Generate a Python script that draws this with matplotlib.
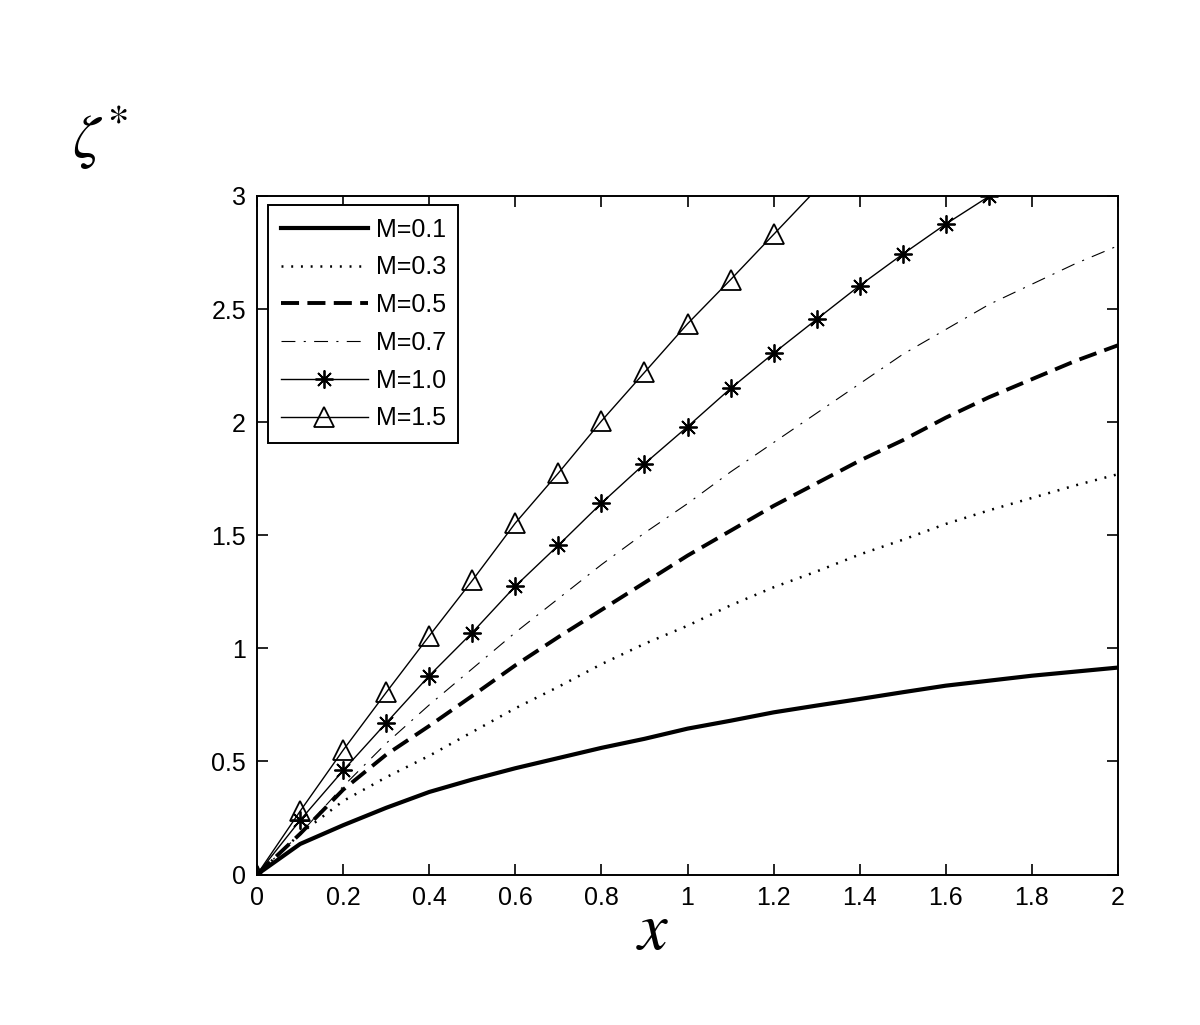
import numpy as np
import matplotlib.pyplot as plt

plt.rcParams['font.family'] = ['Liberation Sans', 'DejaVu Sans']
plt.rcParams['mathtext.fontset'] = 'stix'
plt.rcParams['lines.scale_dashes'] = False

# x grid (step 0.1) and curves
x = [0.0, 0.1, 0.2, 0.3, 0.4, 0.5, 0.6, 0.7, 0.8, 0.9, 1.0,
     1.1, 1.2, 1.3, 1.4, 1.5, 1.6, 1.7, 1.8, 1.9, 2.0]

m01 = [0, 0.135, 0.218, 0.295, 0.365, 0.42, 0.47, 0.515, 0.56, 0.60, 0.645,
       0.68, 0.717, 0.747, 0.776, 0.806, 0.835, 0.857, 0.879, 0.897, 0.915]
m03 = [0, 0.18, 0.325, 0.43, 0.525, 0.63, 0.735, 0.83, 0.93, 1.02, 1.10,
       1.19, 1.27, 1.34, 1.415, 1.48, 1.55, 1.61, 1.665, 1.72, 1.77]
m05 = [0, 0.18, 0.375, 0.53, 0.657, 0.79, 0.925, 1.05, 1.17, 1.29, 1.41,
       1.52, 1.63, 1.73, 1.83, 1.92, 2.02, 2.11, 2.19, 2.27, 2.34]
m07 = [0, 0.18, 0.39, 0.58, 0.75, 0.91, 1.07, 1.22, 1.37, 1.51, 1.64,
       1.78, 1.91, 2.04, 2.17, 2.30, 2.41, 2.52, 2.61, 2.70, 2.78]
m10 = [0, 0.24, 0.46, 0.67, 0.879, 1.07, 1.275, 1.456, 1.642, 1.816, 1.98,
       2.149, 2.305, 2.455, 2.604, 2.743, 2.876, 2.998]
m15 = [0, 0.28, 0.55, 0.805, 1.055, 1.30, 1.554, 1.775, 2.005, 2.22, 2.435,
       2.63, 2.83, 3.03]

labels = ['M=0.1', 'M=0.3', 'M=0.5', 'M=0.7', 'M=1.0', 'M=1.5']

fig = plt.figure(figsize=(12, 10.25), dpi=100)
ax = fig.add_axes([0.2142, 0.1468, 0.7175, 0.662])

ax.plot(x, m01, color='k', lw=3.0, label=labels[0])
ax.plot(x, m03, color='k', lw=1.8, linestyle=(0, (1.4, 5.6)), label=labels[1])
ax.plot(x, m05, color='k', lw=2.8, linestyle=(0, (13, 6)), label=labels[2])
ax.plot(x, m07, color='k', lw=0.8, linestyle=(0, (10, 6, 1.5, 6)), label=labels[3])
ax.plot(x[:len(m10)], m10, color='k', lw=1.0, marker=(8, 2, 0), ms=13,
        mew=1.3, label=labels[4])
ax.plot(x[:len(m15)], m15, color='k', lw=1.0, marker='^', ms=14,
        mfc='none', mew=1.3, markevery=list(range(len(m15) - 1)), label=labels[5])

ax.set_xlim(0, 2)
ax.set_ylim(0, 3)
ax.set_xticks(np.arange(0, 2.01, 0.2))
ax.set_xticklabels(['0', '0.2', '0.4', '0.6', '0.8', '1', '1.2', '1.4', '1.6', '1.8', '2'])
ax.set_yticks([0, 0.5, 1, 1.5, 2, 2.5, 3])
ax.set_yticklabels(['0', '0.5', '1', '1.5', '2', '2.5', '3'])
ax.tick_params(direction='in', length=8, width=1.2, top=True, right=True,
               labelsize=18, pad=8, colors='k')
for s in ax.spines.values():
    s.set_linewidth(1.4)

leg = ax.legend(loc='upper left', bbox_to_anchor=(0.0128, 0.9867), borderaxespad=0,
                fontsize=18, handlelength=3.5, handletextpad=0.3, labelspacing=0.55,
                borderpad=0.5, fancybox=False, framealpha=1, edgecolor='k', numpoints=1)
leg.get_frame().set_linewidth(1.4)

fig.text(653 / 1200, 1 - 932 / 1025, r'$x$', fontsize=48, ha='center', va='center')
fig.text(100 / 1200, 1 - 138 / 1025, r'$\zeta^{\!*}$', fontsize=44, ha='center', va='center')

fig.savefig('out.png', dpi=100)
